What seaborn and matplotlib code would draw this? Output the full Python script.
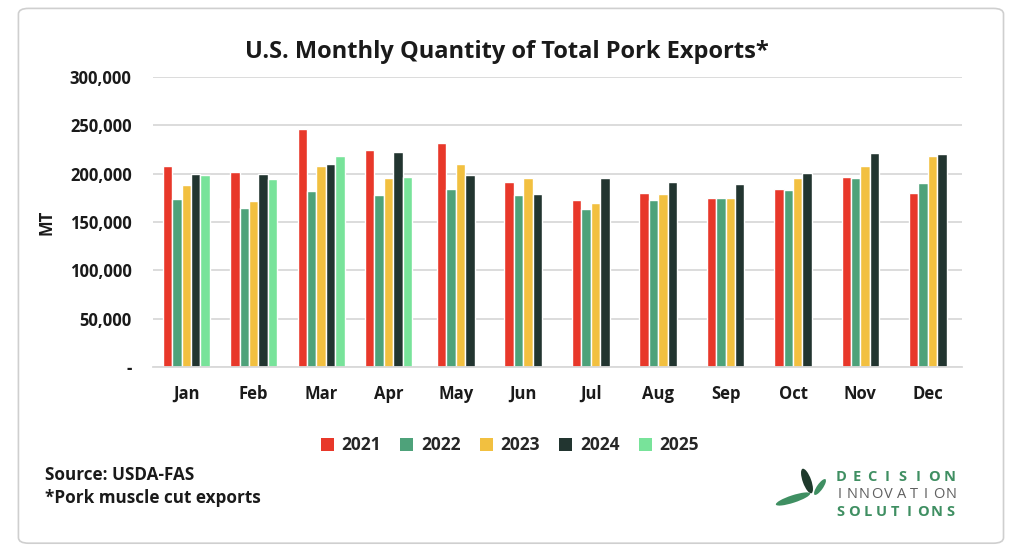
import matplotlib
matplotlib.use("Agg")
import matplotlib.pyplot as plt
import seaborn as sns
import pandas as pd
from matplotlib.patches import Patch, FancyBboxPatch, Ellipse

months = ["Jan", "Feb", "Mar", "Apr", "May", "Jun", "Jul", "Aug", "Sep", "Oct", "Nov", "Dec"]
years = ["2021", "2022", "2023", "2024", "2025"]
v2021 = [208000, 202000, 246500, 224500, 232000, 191000, 173000, 180000, 175000, 184000, 197000, 180000]
v2022 = [174000, 164000, 182000, 178000, 184000, 178000, 163000, 173000, 175000, 183000, 195500, 190000]
v2023 = [188000, 172000, 208000, 196000, 210000, 195500, 170000, 179000, 175000, 196000, 208000, 218500]
v2024 = [200000, 200000, 210000, 222000, 199000, 179000, 195000, 191000, 189000, 201000, 221000, 220000]
v2025 = [199000, 194000, 218000, 197000]
colors = ["#E8382A", "#4EA27A", "#F2C040", "#223530", "#78E39A"]
yticks = [0, 50000, 100000, 150000, 200000, 250000, 300000]

series = [v2021, v2022, v2023, v2024, v2025]
rows = []
for yr, vals in zip(years, series):
    for m, v in zip(months, vals):
        rows.append({"Month": m, "Year": yr, "MT": v})
df = pd.DataFrame(rows)

sns.set_style("white")
plt.rcParams["font.family"] = ["Open Sans", "DejaVu Sans"]

fig = plt.figure(figsize=(10.24, 5.6), dpi=100)
ax = fig.add_axes([0.149, 0.3446, 0.79, 0.518])

width = 0.7
sns.barplot(data=df, x="Month", y="MT", hue="Year", order=months, hue_order=years,
            palette=colors, width=width, saturation=1, errorbar=None, legend=False, ax=ax)

# center groups that have fewer bars
counts = df.groupby("Month").size().to_dict()
bw = width / len(years)
for p in ax.patches:
    cx = p.get_x() + p.get_width() / 2
    mi = int(round(cx))
    if 0 <= mi < len(months):
        n = counts[months[mi]]
        shift = (len(years) - n) * bw / 2
        p.set_x(p.get_x() + shift)

ax.set_ylim(0, 300000)
ax.set_xlim(-0.5, len(months) - 0.5)
ax.set_yticks(yticks)
ax.set_yticklabels(["-" if t == 0 else f"{t:,}" for t in yticks],
                   fontsize=12, fontweight="bold", color="#1a1a1a")
ax.tick_params(axis="y", length=0, pad=15)
ax.tick_params(axis="x", length=0, pad=13, labelsize=12)
for lbl in ax.get_xticklabels():
    lbl.set_fontweight("bold")
    lbl.set_color("#1a1a1a")
ax.grid(axis="y", color="#D9D9D9", linewidth=1.3)
ax.set_axisbelow(True)
for s in ["top", "right", "left"]:
    ax.spines[s].set_visible(False)
ax.spines["bottom"].set_color("#D9D9D9")
ax.spines["bottom"].set_linewidth(1.3)
ax.set_xlabel("")
ax.set_ylabel("MT", fontsize=12, fontweight="bold", color="#1a1a1a", labelpad=10)

fig.text(0.495, 0.907, "U.S. Monthly Quantity of Total Pork Exports*", ha="center", va="center",
         fontsize=17, fontweight="bold", color="#1a1a1a")

handles = [Patch(facecolor=c, edgecolor="none") for c in colors]
fig.legend(handles, years, loc="center", bbox_to_anchor=(0.498, 0.205), ncol=5, frameon=False,
           prop={"weight": "bold", "size": 12.5}, handlelength=0.75, handleheight=0.75,
           handletextpad=0.45, columnspacing=1.1)

fig.text(0.044, 0.151, "Source: USDA-FAS", ha="left", va="center", fontsize=12.3,
         fontweight="bold", color="#1a1a1a")
fig.text(0.044, 0.110, "*Pork muscle cut exports", ha="left", va="center", fontsize=12.3,
         fontweight="bold", color="#1a1a1a")

# logo text: letters spread evenly across the word width
logo_words = [("DECISION", 477, "#3F8F62", "bold"),
              ("INNOVATION", 494, "#606060", "normal"),
              ("SOLUTIONS", 512, "#3F8F62", "bold")]
x0, x1 = 833 / 1024, 957 / 1024
for word, ypx, col, wt in logo_words:
    n = len(word)
    for i, ch in enumerate(word):
        fig.text(x0 + (i + 0.5) * (x1 - x0) / n, 1 - ypx / 560, ch, ha="center", va="center",
                 fontsize=10.5, fontweight=wt, color=col)

leaves = [((8.07, 0.79), 0.085, 0.26, 20, "#1f3a2c"),
          ((7.93, 0.61), 0.36, 0.075, 18, "#3F8F62"),
          ((8.20, 0.73), 0.06, 0.19, -35, "#3F8F62")]
for (xy, w, h, ang, c) in leaves:
    fig.patches.append(Ellipse(xy, w, h, angle=ang, transform=fig.dpi_scale_trans,
                               facecolor=c, edgecolor="none"))

# outer border
fig.patches.append(FancyBboxPatch((0.018, 0.03), 0.962, 0.955, boxstyle="round,pad=0,rounding_size=0.01",
                                  transform=fig.transFigure, facecolor="none",
                                  edgecolor="#CFCFCF", linewidth=1.2))

fig.savefig("out.png", dpi=100)
